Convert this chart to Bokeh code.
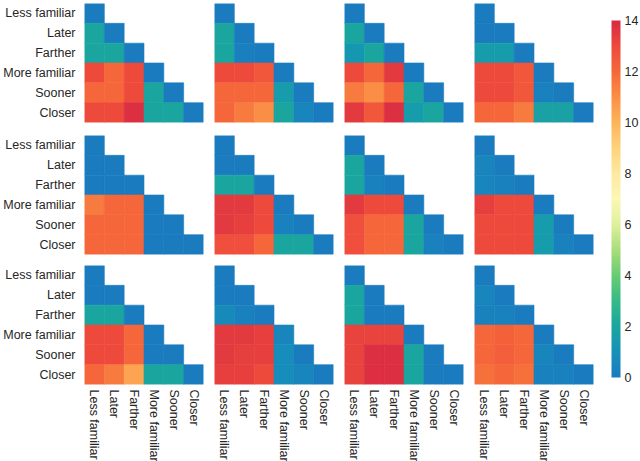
import numpy as np
from bokeh.plotting import figure
from bokeh.models import ColumnDataSource, LinearColorMapper, ColorBar, FixedTicker, FactorRange
from bokeh.layouts import row, column
from bokeh.embed import file_html
from bokeh.resources import INLINE

labels = ["Less familiar", "Later", "Farther", "More familiar", "Sooner", "Closer"]
cbar_ticks = [0, 2, 4, 6, 8, 10, 12, 14]

# lower-triangular matrices (row by row, top to bottom)
m_r1c1 = [[0], [2, 0], [2, 2, 0], [13, 12, 13, 0], [12, 12, 13, 2, 0], [13, 13, 13.8, 2, 2, 0]]
m_r1c2 = [[0], [2, 0], [2, 0.2, 0], [13, 13, 12.5, 0], [12, 12, 12, 1.5, 0], [12, 11.5, 11, 2, 0.5, 0]]
m_r1c3 = [[0], [2, 0], [1.3, 2, 0], [13, 12, 13.5, 0], [11.5, 11, 12, 2, 0], [13.5, 12.5, 13.8, 1.5, 2, 0]]
m_r1c4 = [[0], [0, 0], [1.5, 1.5, 0], [13, 13, 12.5, 0], [13, 13, 12.5, 0.3, 0], [12, 12, 11.5, 1.8, 1.8, 0]]

m_r2c1 = [[0], [0, 0], [0, 0, 0], [11.5, 12, 12, 0], [12, 12, 12, 0, 0], [12, 12, 12, 0, 0, 0]]
m_r2c2 = [[0], [0, 0], [2, 2, 0], [13.5, 13.5, 13, 0], [13.5, 13.3, 13, 0.3, 0], [12.8, 12.8, 12, 2, 2, 0]]
m_r2c3 = [[0], [2, 0], [2, 0.3, 0], [13.5, 13, 13, 0], [12.8, 12, 12, 2, 0], [12.8, 12, 12, 2, 0.3, 0]]
m_r2c4 = [[0], [0.5, 0], [0.5, 0.3, 0], [13.3, 13, 13, 0], [13, 13, 13, 1.5, 0], [13, 13, 13, 1.5, 0.3, 0]]

m_r3c1 = [[0], [0, 0], [2, 2, 0], [13, 13, 12, 0], [13, 13, 12, 0, 0], [12, 11.5, 10.4, 2, 2, 0]]
m_r3c2 = [[0], [0, 0], [0.7, 0.3, 0], [13.5, 13.5, 13.3, 0.5], [13.5, 13.3, 13.3, 0.8, 0], [13.3, 13.3, 13, 0.8, 0.5, 0]]
m_r3c3 = [[0], [2, 0], [2, 0, 0], [13.2, 13.2, 13.2, 0], [13.2, 13.8, 13.8, 2, 0], [13.2, 13.8, 13.8, 2, 0, 0]]
m_r3c4 = [[0], [0.5, 0], [0.3, 0.3, 0], [12, 12.2, 12, 0], [12, 12.3, 12, 0.5, 0], [11.8, 12, 11.8, 0.3, 0.3, 0]]

grid = [[m_r1c1, m_r1c2, m_r1c3, m_r1c4],
        [m_r2c1, m_r2c2, m_r2c3, m_r2c4],
        [m_r3c1, m_r3c2, m_r3c3, m_r3c4]]

# colormap (blue -> teal -> green -> pale yellow -> orange -> red)
anchor_vals = np.arange(15)
anchor_cols = ["#1b7bbf", "#1592b8", "#1aa69e", "#35bb88", "#68cc72", "#a8de79", "#dff09b",
               "#fbf8b4", "#fee9a0", "#fed27c", "#fdb45a", "#fa8f44", "#f5683a", "#ee4a3c", "#d92a43"]
rgb = np.array([[int(c[i:i + 2], 16) for i in (1, 3, 5)] for c in anchor_cols], dtype=float)
t = np.linspace(0, 14, 256)
palette = ["#%02x%02x%02x" % tuple(int(round(np.interp(tt, anchor_vals, rgb[:, k]))) for k in range(3)) for tt in t]
mapper = LinearColorMapper(palette=palette, low=0, high=14)

FONT = "Liberation Sans"
FS = "12.5px"
TXT = "#262626"


def make_panel(mat, r, c):
    xs, ys, vs = [], [], []
    for i, rv in enumerate(mat):
        for j, v in enumerate(rv):
            xs.append(labels[j]); ys.append(labels[i]); vs.append(v)
    src = ColumnDataSource(dict(x=xs, y=ys, v=vs))
    p = figure(x_range=FactorRange(*labels), y_range=FactorRange(*labels[::-1]),
               frame_width=119, frame_height=119, output_backend="svg", toolbar_location=None,
               min_border_left=(81 if c == 0 else 0), min_border_right=11,
               min_border_top=0, min_border_bottom=(78 if r == 2 else (13 if r == 0 else 11)))
    p.rect(x="x", y="y", width=1, height=1, source=src,
           fill_color={"field": "v", "transform": mapper},
           line_color={"field": "v", "transform": mapper}, line_width=0.6)
    p.grid.visible = False
    p.outline_line_color = None
    for ax in (p.xaxis, p.yaxis):
        ax.axis_line_color = None
        ax.major_tick_line_color = None
        ax.minor_tick_line_color = None
        ax.major_tick_out = 0
        ax.major_label_text_font = FONT
        ax.major_label_text_font_size = FS
        ax.major_label_text_color = TXT
    p.yaxis.major_label_standoff = 9
    p.xaxis.major_label_standoff = 5
    p.xaxis.major_label_orientation = "vertical"
    if c != 0:
        p.yaxis.visible = False
    if r != 2:
        p.xaxis.visible = False
    return p


rows = []
for r in range(3):
    rows.append(row([make_panel(grid[r][c], r, c) for c in range(4)]))
panels = column(rows)

cbfig = figure(frame_width=30, frame_height=357, min_border_top=17, min_border_left=7,
               min_border_right=0, min_border_bottom=12, x_range=(0, 1), y_range=(0, 1),
               output_backend="svg", toolbar_location=None)
cbfig.axis.visible = False
cbfig.grid.visible = False
cbfig.outline_line_color = None
cb = ColorBar(color_mapper=mapper, location=(0, 0), width=9, height=357, padding=0, margin=0,
              ticker=FixedTicker(ticks=cbar_ticks), major_tick_line_color=None,
              minor_tick_line_color=None, bar_line_color=None, border_line_color=None,
              background_fill_alpha=0, label_standoff=4,
              major_label_text_font=FONT, major_label_text_font_size=FS,
              major_label_text_color=TXT)
cbfig.add_layout(cb, "center")

layout = row([panels, cbfig])
layout.margin = (3, -14, -12, 0)

open("out.html", "w").write(file_html(layout, INLINE))
